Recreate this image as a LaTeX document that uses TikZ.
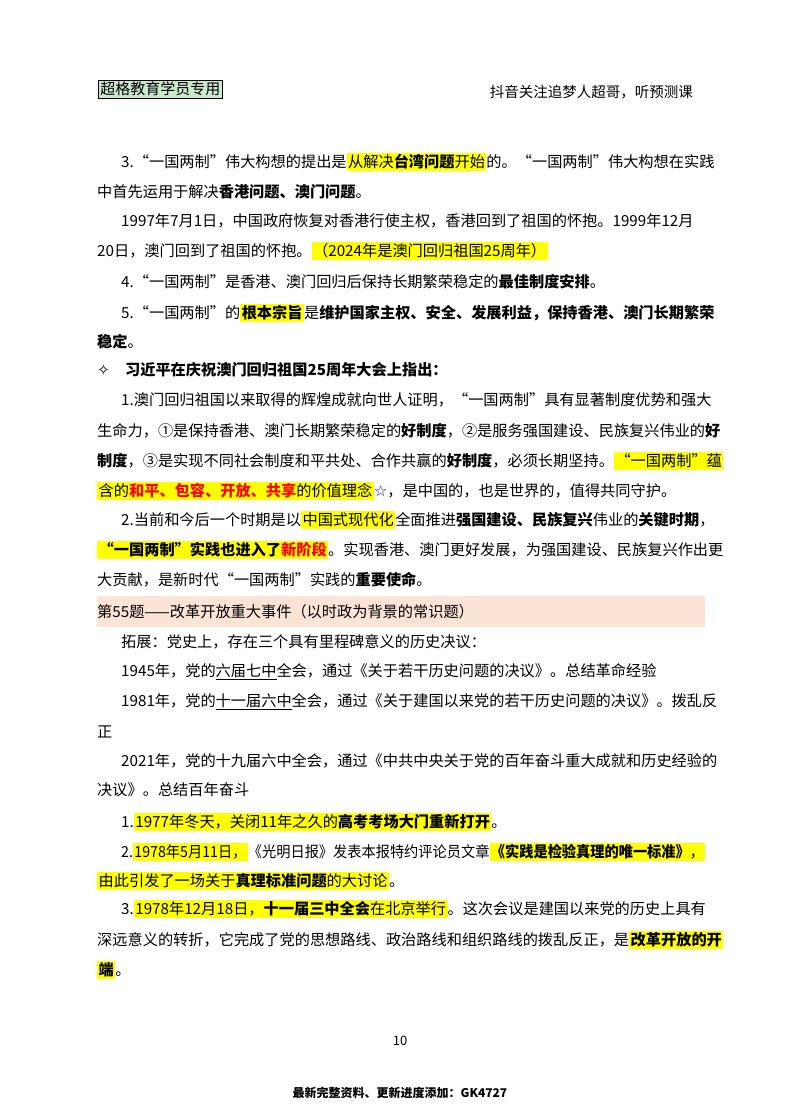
\documentclass[tikz,border=0pt]{standalone}
\usepackage{fontspec}
\usepackage{graphicx}
\setmainfont{Noto Sans CJK SC}
\newfontfamily\sym{DejaVu Sans}
\definecolor{hlyel}{RGB}{255,255,0}
\definecolor{pinkband}{RGB}{251,228,214}
\definecolor{boxgreen}{RGB}{204,232,207}
\newcommand{\hl}[1]{{\setlength{\fboxsep}{1.5pt}\colorbox{hlyel}{\vphantom{国}#1}}}
\newcommand{\B}[1]{{\bfseries #1}}
\newcommand{\R}[1]{\textcolor{red}{\bfseries #1}}
\begin{document}
\begin{tikzpicture}[x=1pt,y=-1pt,
  every node/.style={inner sep=0pt,font=\fontsize{15.2}{18}\selectfont},
  ln/.style={anchor=west}]
\useasboundingbox (0,0) rectangle (800,1114);
\node[draw,line width=0.8pt,fill=boxgreen,inner sep=2pt,anchor=west,font=\fontsize{15}{16}\selectfont] (hd) at (98,89) {超格教育学员专用};
\node[anchor=east,font=\fontsize{14.5}{16}\selectfont] (hr) at (693,92) {抖音关注追梦人超哥，听预测课};
\node[ln] (l1) at (121,162) {3.“一国两制”伟大构想的提出是\hl{从解决\B{台湾问题}开始}的。“一国两制”伟大构想在实践};
\node[ln] (l2) at (97,192) {中首先运用于解决\B{香港问题、澳门问题}。};
\node[ln] (l3) at (121,221) {1997年7月1日，中国政府恢复对香港行使主权，香港回到了祖国的怀抱。1999年12月};
\node[ln] (l4) at (97,251) {20日，澳门回到了祖国的怀抱。\hl{（2024年是澳门回归祖国25周年）}};
\node[ln] (l5) at (121,282) {4.“一国两制”是香港、澳门回归后保持长期繁荣稳定的\B{最佳制度安排}。};
\node[ln] (l6) at (121,313) {5.“一国两制”的\hl{\B{根本宗旨}}是\B{维护国家主权、安全、发展利益，保持香港、澳门长期繁荣}};
\node[ln] (l7) at (97,342) {\B{稳定}。};
\node[ln] (l8) at (97,370) {{\sym ✧}\quad\B{习近平在庆祝澳门回归祖国25周年大会上指出：}};
\node[ln] (l9) at (121,400) {1.澳门回归祖国以来取得的辉煌成就向世人证明，“一国两制”具有显著制度优势和强大};
\node[ln] (l10) at (97,431) {生命力，①是保持香港、澳门长期繁荣稳定的\B{好制度}，②是服务强国建设、民族复兴伟业的\B{好}};
\node[ln] (l11) at (97,461) {\B{制度}，③是实现不同社会制度和平共处、合作共赢的\B{好制度}，必须长期坚持。\hl{“一国两制”蕴}};
\node[ln] (l12) at (97,491) {\hl{含的\R{和平、包容、开放、共享}的价值理念}\textcolor{blue}{\sym ☆}，是中国的，也是世界的，值得共同守护。};
\node[ln] (l13) at (121,520) {2.当前和今后一个时期是以\hl{中国式现代化}全面推进\B{强国建设、民族复兴}伟业的\B{关键时期}，};
\node[ln] (l14) at (97,550) {\hl{\B{“一国两制”实践也进入了}\R{新阶段}}。实现香港、澳门更好发展，为强国建设、民族复兴作出更};
\node[ln] (l15) at (97,580) {大贡献，是新时代“一国两制”实践的\B{重要使命}。};
\fill[pinkband] (97,596) rectangle (705,627);
\node[ln] (l16) at (97,612) {第55题——改革开放重大事件（以时政为背景的常识题）};
\node[ln] (l17) at (121,642) {拓展：党史上，存在三个具有里程碑意义的历史决议：};
\node[ln] (l18) at (121,672) {1945年，党的\underline{六届七中}全会，通过《关于若干历史问题的决议》。总结革命经验};
\node[ln] (l19) at (121,702) {1981年，党的\underline{十一届六中}全会，通过《关于建国以来党的若干历史问题的决议》。拨乱反};
\node[ln] (l20) at (97,732) {正};
\node[ln] (l21) at (121,761) {2021年，党的十九届六中全会，通过《中共中央关于党的百年奋斗重大成就和历史经验的};
\node[ln] (l22) at (97,790) {决议》。总结百年奋斗};
\node[ln] (l23) at (121,822) {1.\hl{1977年冬天，关闭11年之久的\B{高考考场大门重新打开}}。};
\node[ln] (l24) at (121,852) {\scalebox{0.935}[1]{2.\hl{1978年5月11日，}《光明日报》发表本报特约评论员文章\hl{\B{《实践是检验真理的唯一标准》}，}}};
\node[ln] (l25) at (97,881) {\hl{由此引发了一场关于\B{真理标准问题}的大讨论}。};
\node[ln] (l26) at (121,909) {3.\hl{1978年12月18日，\B{十一届三中全会}在北京举行}。这次会议是建国以来党的历史上具有};
\node[ln] (l27) at (97,940) {深远意义的转折，它完成了党的思想路线、政治路线和组织路线的拨乱反正，是\hl{\B{改革开放的开}}};
\node[ln] (l28) at (97,970) {\hl{\B{端}}。};
\node[font=\fontsize{13}{15}\selectfont] (pg) at (400,1041) {10};
\node[font=\fontsize{12}{14}\selectfont\bfseries] (ft) at (400,1093) {最新完整资料、更新进度添加：GK4727};
\end{tikzpicture}
\end{document}
